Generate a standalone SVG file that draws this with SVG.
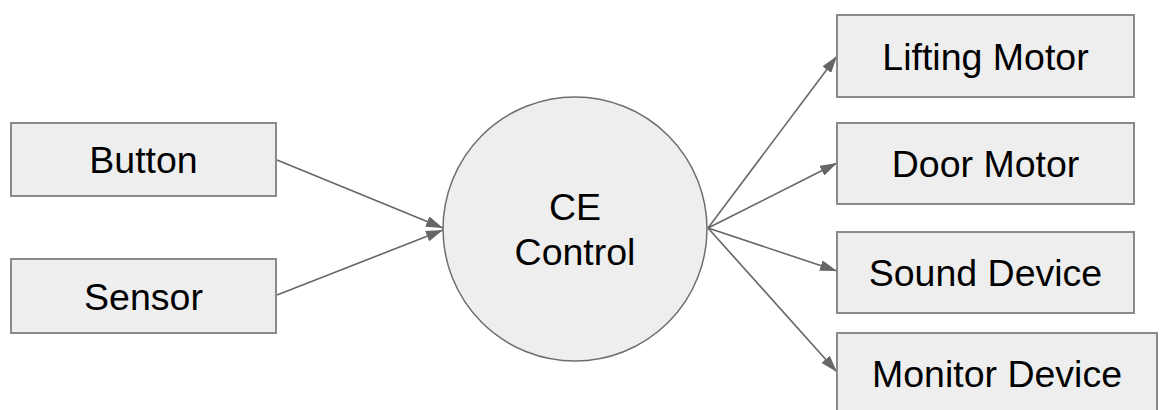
<svg xmlns="http://www.w3.org/2000/svg" width="1162" height="410" viewBox="0 0 1162 410">
  <style>
    .box { fill: #eeeeee; stroke: #8a8a8a; stroke-width: 2; }
    .hub { fill: #eeeeee; stroke: #6e6e6e; stroke-width: 1.5; }
    .label { font-family: "Liberation Sans", Arial, sans-serif; font-size: 37.5px; fill: #000000; text-anchor: middle; }
    .edge { stroke: #666666; stroke-width: 1.6; fill: none; marker-end: url(#arrowhead); }
  </style>
  <defs>
    <marker id="arrowhead" viewBox="0 0 17 11" refX="17" refY="5.5" markerWidth="17" markerHeight="11" markerUnits="userSpaceOnUse" orient="auto">
      <path d="M0,0 L17,5.5 L0,11 z" fill="#666666"/>
    </marker>
  </defs>

  <rect width="1162" height="410" fill="#ffffff"/>

  <g id="connectors">
    <line class="edge" x1="277" y1="160" x2="443" y2="228"/>
    <line class="edge" x1="277" y1="295" x2="443" y2="230"/>
    <line class="edge" x1="708" y1="228" x2="837" y2="56"/>
    <line class="edge" x1="708" y1="228" x2="837" y2="163"/>
    <line class="edge" x1="708" y1="228" x2="837" y2="271"/>
    <line class="edge" x1="708" y1="228" x2="837" y2="372"/>
  </g>

  <g id="button">
    <rect class="box" x="11" y="123" width="265" height="73"/>
    <text class="label" x="143.5" y="173">Button</text>
  </g>

  <g id="sensor">
    <rect class="box" x="11" y="259" width="265" height="74"/>
    <text class="label" x="143.5" y="310">Sensor</text>
  </g>

  <g id="ce-control">
    <circle class="hub" cx="575" cy="229" r="132"/>
    <text class="label" x="575" y="220">CE</text>
    <text class="label" x="575" y="265">Control</text>
  </g>

  <g id="lifting-motor">
    <rect class="box" x="837" y="15" width="297" height="82"/>
    <text class="label" x="985.5" y="70">Lifting Motor</text>
  </g>

  <g id="door-motor">
    <rect class="box" x="837" y="123" width="297" height="81"/>
    <text class="label" x="985.5" y="177">Door Motor</text>
  </g>

  <g id="sound-device">
    <rect class="box" x="837" y="232" width="297" height="81"/>
    <text class="label" x="985.5" y="286">Sound Device</text>
  </g>

  <g id="monitor-device">
    <rect class="box" x="837" y="333" width="320" height="82"/>
    <text class="label" x="997" y="387">Monitor Device</text>
  </g>
</svg>
